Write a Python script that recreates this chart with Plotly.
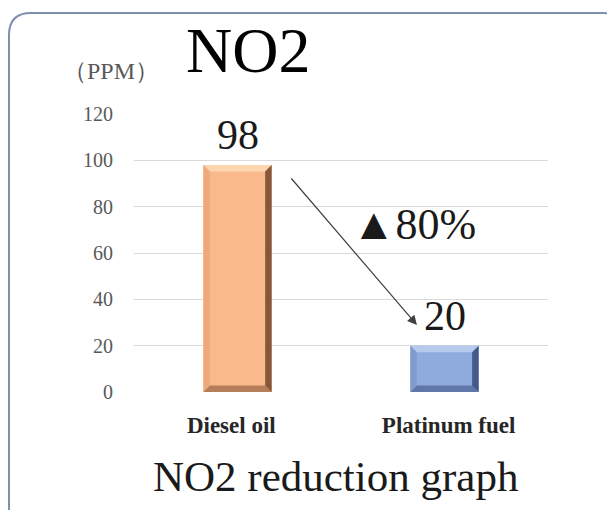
import plotly.graph_objects as go

categories = ["Diesel oil", "Platinum fuel"]
values = [98, 20]
face_colors = ["#F9B98B", "#8FAADC"]
top_colors = ["#FDD6B0", "#B6CAEE"]
left_colors = ["#EFAA7C", "#809CCF"]
right_colors = ["#85583C", "#42598A"]
bottom_colors = ["#B57E59", "#5F78A8"]
y_ticks = [0, 20, 40, 60, 80, 100, 120]
reduction_label = "▲80%"
unit_label = "（PPM）"

serif = "Liberation Serif, Times New Roman, serif"

# plot area geometry (pixels)
PL, PR, PT, PB = 134, 548, 114, 392
W, H = 607, 510
BAR_W = 0.33

fig = go.Figure()
fig.add_trace(go.Bar(
    x=[0, 1], y=values,
    width=BAR_W,
    marker=dict(color=face_colors, line=dict(width=0)),
    cliponaxis=False,
    hoverinfo="skip",
))

# bevel edges drawn as trapezoids inside each bar
x_unit = 2.0 / (PR - PL)          # data units per pixel (x)
y_unit = 120.0 / (PB - PT)        # data units per pixel (y)
bev = 6.5
dx, dy = bev * x_unit, bev * y_unit


def poly(pts):
    return "M " + " L ".join(f"{a},{b}" for a, b in pts) + " Z"


for i, v in enumerate(values):
    x0, x1, y0, y1 = i - BAR_W / 2, i + BAR_W / 2, 0, v
    pieces = [
        ([(x0, y1), (x1, y1), (x1 - dx, y1 - dy), (x0 + dx, y1 - dy)], top_colors[i]),
        ([(x0, y0), (x0, y1), (x0 + dx, y1 - dy), (x0 + dx, y0 + dy)], left_colors[i]),
        ([(x0, y0), (x1, y0), (x1 - dx, y0 + dy), (x0 + dx, y0 + dy)], bottom_colors[i]),
        ([(x1, y1), (x1, y0), (x1 - dx, y0 + dy), (x1 - dx, y1 - dy)], right_colors[i]),
    ]
    for pts, col in pieces:
        fig.add_shape(type="path", xref="x", yref="y", path=poly(pts),
                      fillcolor=col, line=dict(width=0), layer="above")
    fig.add_annotation(
        x=i, y=v, xref="x", yref="y", text=str(v), showarrow=False,
        yshift=30, yanchor="middle",
        font=dict(family=serif, size=42, color="#1a1a1a"),
    )

fig.update_layout(
    width=W, height=H,
    margin=dict(l=PL, r=W - PR, t=PT, b=H - PB, pad=0),
    paper_bgcolor="white", plot_bgcolor="white",
    showlegend=False,
    xaxis=dict(
        range=[-0.5, 1.5],
        tickmode="array", tickvals=[-0.03, 1.02], ticktext=categories,
        tickfont=dict(family=serif, size=23, color="#262626", weight="bold"),
        showgrid=False, zeroline=False, showline=False, ticks="",
        ticklabelstandoff=17,
        fixedrange=True,
    ),
    yaxis=dict(
        range=[0, 120],
        tickmode="array", tickvals=y_ticks,
        tickfont=dict(family=serif, size=20, color="#595959"),
        showgrid=True, gridcolor="#D9D9D9", gridwidth=1,
        zeroline=False, showline=False, ticks="", ticklabelstandoff=20,
        fixedrange=True,
    ),
)

# arrow from Diesel to Platinum
fig.add_annotation(
    x=0.867, y=28.9, ax=0.254, ay=92.8,
    xref="x", yref="y", axref="x", ayref="y",
    showarrow=True, arrowhead=2, arrowsize=1.6, arrowwidth=1.2,
    arrowcolor="#404040", text="",
)
fig.add_annotation(
    x=0.853, y=72.5, xref="x", yref="y", text=reduction_label,
    showarrow=False, font=dict(family=serif, size=44, color="#1a1a1a"),
)


def px(v):
    return (v - PL) / (PR - PL)


def py(v):
    return (PB - v) / (PB - PT)


# Titles
fig.add_annotation(
    x=px(248), y=py(50), xref="paper", yref="paper",
    text="NO2", showarrow=False, font=dict(family=serif, size=64, color="black"),
    xanchor="center", yanchor="middle",
)
fig.add_annotation(
    x=px(111), y=py(71), xref="paper", yref="paper",
    text=unit_label, showarrow=False, font=dict(family=serif, size=24, color="#595959"),
    xanchor="center", yanchor="middle",
)
fig.add_annotation(
    x=px(335), y=py(477), xref="paper", yref="paper",
    text="NO2 reduction graph", showarrow=False,
    font=dict(family=serif, size=43, color="#1a1a1a"),
    xanchor="center", yanchor="middle",
)

# rounded border
L, T, R, B, r = 9, 13, 625, 540, 22
path = (
    f"M {px(L)},{py(B)} L {px(L)},{py(T + r)} "
    f"Q {px(L)},{py(T)} {px(L + r)},{py(T)} "
    f"L {px(R - r)},{py(T)} Q {px(R)},{py(T)} {px(R)},{py(T + r)} "
    f"L {px(R)},{py(B)}"
)
fig.add_shape(type="path", path=path, xref="paper", yref="paper",
              line=dict(color="#7F90AC", width=2))

fig.write_html(
    "out.html",
    config={"displayModeBar": False},
    post_script="document.body.style.margin='0';document.body.style.overflow='hidden';",
)
